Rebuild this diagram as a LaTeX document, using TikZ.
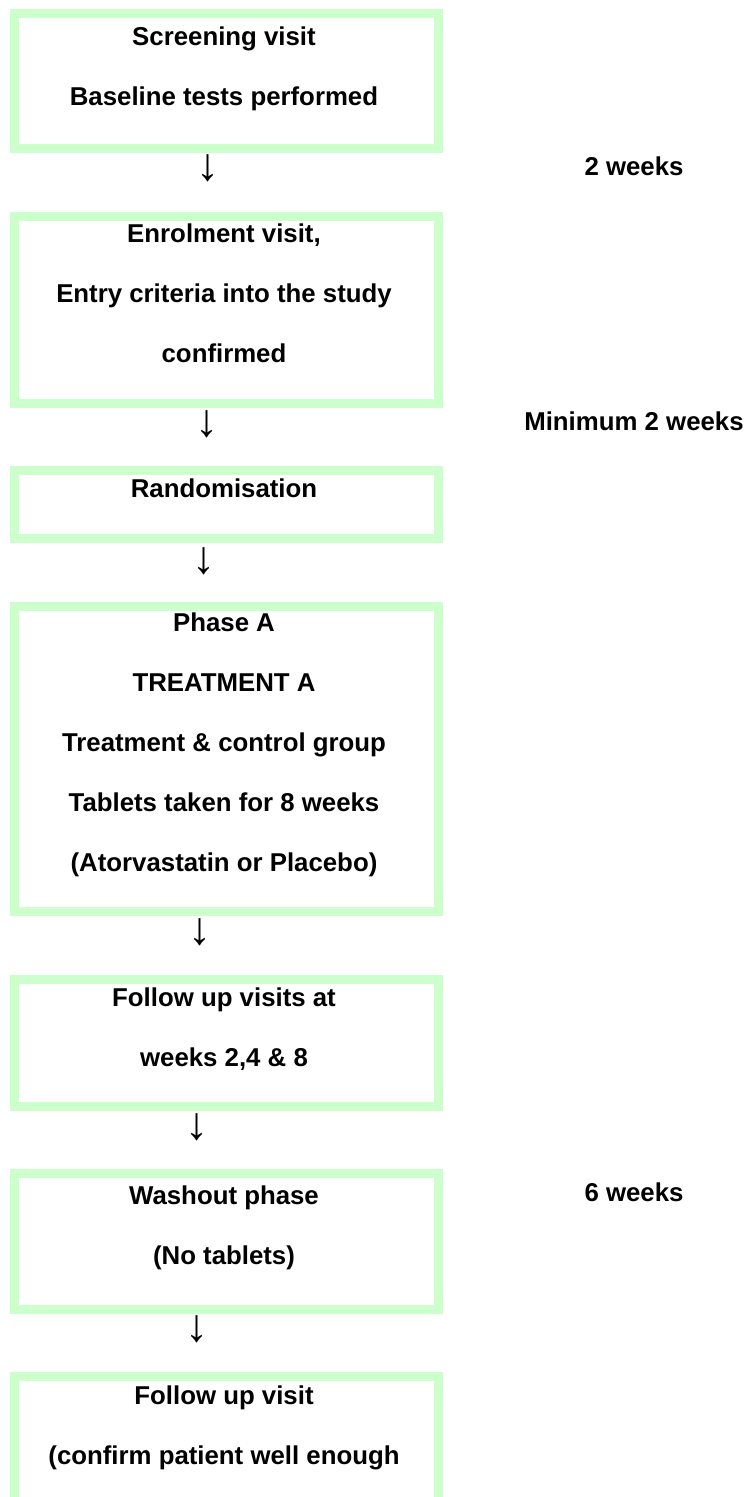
\documentclass[tikz,border=0pt]{standalone}
\usepackage{fontspec}
\setmainfont{Liberation Sans}
\newfontfamily\arrowfont{Liberation Serif}
\definecolor{framegreen}{HTML}{CCFFCC}
\begin{document}
\begin{tikzpicture}[x=1pt, y=-1pt,
  stagebox/.style={draw=framegreen, line width=9pt, inner sep=0pt, outer sep=0pt,
    minimum width=424pt, anchor=north west},
  stagetext/.style={anchor=base, align=center, inner sep=0pt,
    font=\bfseries\fontsize{25.8pt}{60pt}\selectfont},
  gaplabel/.style={anchor=base, inner sep=0pt,
    font=\bfseries\fontsize{25.8pt}{30pt}\selectfont},
  downarrow/.style={inner sep=0pt, font=\arrowfont\fontsize{46pt}{50pt}\selectfont}]
\useasboundingbox (0,0) rectangle (747,1497);
\clip (0,0) rectangle (747,1497);

% stage frames
\node[stagebox, minimum height=135pt] (b1) at (14.5,13.5) {};
\node[stagebox, minimum height=187pt] (b2) at (14.5,216.5) {};
\node[stagebox, minimum height=68pt]  (b3) at (14.5,470.5) {};
\node[stagebox, minimum height=305pt] (b4) at (14.5,606.5) {};
\node[stagebox, minimum height=127pt] (b5) at (14.5,979.5) {};
\node[stagebox, minimum height=136pt] (b6) at (14.5,1173.5) {};
\node[stagebox, minimum height=200pt] (b7) at (14.5,1376.5) {};

% stage texts (anchored at the baseline of the last line)
\node[stagetext] (t1) at (224,105) {Screening visit\\Baseline tests performed};
\node[stagetext] (t2) at (224,362) {Enrolment visit,\\Entry criteria into the study\\confirmed};
\node[stagetext] (t3) at (224,497) {Randomisation};
\node[stagetext] (t4) at (224,871) {Phase A\\TREATMENT A\\Treatment \& control group\\Tablets taken for 8 weeks\\(Atorvastatin or Placebo)};
\node[stagetext] (t5) at (224,1066) {Follow up visits at\\weeks 2,4 \& 8};
\node[stagetext] (t6) at (224,1264) {Washout phase\\(No tablets)};
\node[stagetext] (t7) at (224,1464) {Follow up visit\\(confirm patient well enough};

% arrows between stages
\node[downarrow] (a1) at (208,168.5) {↓};
\node[downarrow] (a2) at (207,424) {↓};
\node[downarrow] (a3) at (204,561) {↓};
\node[downarrow] (a4) at (200,932) {↓};
\node[downarrow] (a5) at (197,1127) {↓};
\node[downarrow] (a6) at (197,1329) {↓};

% durations
\node[gaplabel] (d1) at (634,175) {2 weeks};
\node[gaplabel] (d2) at (634,430) {Minimum 2 weeks};
\node[gaplabel] (d3) at (634,1201) {6 weeks};
\end{tikzpicture}
\end{document}
